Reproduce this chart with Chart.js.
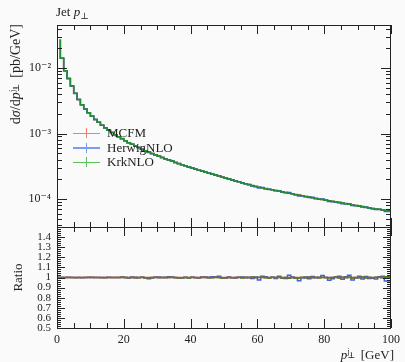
<!DOCTYPE html>
<html><head><meta charset="utf-8">
<script src="https://cdn.jsdelivr.net/npm/chart.js@4.4.1/dist/chart.umd.min.js"></script>
<style>
html,body{margin:0;padding:0;background:#fafafa}
#wrap{position:relative;width:405px;height:362px;overflow:hidden;background:#fafafa}
canvas{position:absolute;left:0;top:0}
.txt{position:absolute;font-family:"Liberation Serif","DejaVu Serif",serif;color:#222;white-space:nowrap;line-height:1}
.txt sub{font-size:70%;vertical-align:-0.3em;line-height:0}
.ss{display:inline-block;position:relative;width:0.8em;height:1em;vertical-align:baseline}
.ss .u{position:absolute;left:0.05em;bottom:0.42em;font-size:62%;line-height:1}
.ss .d{position:absolute;left:0.05em;top:0.72em;font-size:62%;line-height:1}
.leg{position:absolute;left:73px;top:126px;font-family:"Liberation Serif","DejaVu Serif",serif;font-size:13px;color:#222}
.row{height:14.5px;line-height:14.5px;white-space:nowrap}
.mk{display:inline-block;position:relative;width:27px;height:10px;margin-right:7px;vertical-align:-1px}
.mk::before{content:"";position:absolute;left:0;right:0;top:4.5px;height:1.5px;background:var(--c)}
.mk::after{content:"";position:absolute;left:12.5px;top:0;bottom:0;width:1.5px;background:var(--c)}
</style>
</head><body>
<div id="wrap">
<canvas id="c" width="405" height="362"></canvas>
<div class="txt" style="left:56px;top:5px;font-size:13px">Jet <i>p</i><sub>⊥</sub></div>
<div class="txt" style="left:6px;top:224px;width:200px;text-align:right;font-size:14px;transform-origin:0 0;transform:rotate(-90deg)">d<i>σ</i>/d<i>p</i><span class="ss"><span class="u">j₁</span><span class="d">⊥</span></span> [pb/GeV]</div>
<div class="txt" style="left:11px;top:328px;width:101px;text-align:center;font-size:13px;transform-origin:0 0;transform:rotate(-90deg)">Ratio</div>
<div class="txt" style="right:11px;top:346px;font-size:13px"><i>p</i><span class="ss"><span class="u">j₁</span><span class="d">⊥</span></span> [GeV]</div>
<div class="leg">
 <div class="row"><span class="mk" style="--c:#f08070"></span>MCFM</div>
 <div class="row"><span class="mk" style="--c:#7b9cf0"></span>HerwigNLO</div>
 <div class="row"><span class="mk" style="--c:#5cbf5c"></span>KrkNLO</div>
</div>
</div>
<script>
// ---- data ----
const seriesNames = ['MCFM', 'HerwigNLO', 'KrkNLO'];
// bin edges in GeV (1 GeV bins from 0 to 100)
const binEdges = Array.from({length: 101}, (_, i) => i);
// MCFM: dsigma/dpT [pb/GeV] per bin
const mcfm = [
 0, 0.0272, 0.0141, 0.0091, 0.0069, 0.0053, 0.0041, 0.0033, 0.00275, 0.00237,
 0.00207, 0.00184, 0.00164, 0.00148, 0.00134, 0.00122, 0.00112, 0.00104, 0.000955, 0.000891,
 0.000832, 0.000776, 0.000724, 0.000684, 0.000646, 0.000610, 0.000575, 0.000547, 0.000520, 0.000494,
 0.000471, 0.000450, 0.000430, 0.000411, 0.000394, 0.000378, 0.000362, 0.000348, 0.000334, 0.000321,
 0.000309, 0.000297, 0.000286, 0.000276, 0.000266, 0.000257, 0.000248, 0.000240, 0.000232, 0.000224,
 0.000216, 0.000209, 0.000202, 0.000195, 0.000189, 0.000183, 0.000177, 0.000171, 0.000166, 0.000160,
 0.000155, 0.000151, 0.000148, 0.000144, 0.000141, 0.000138, 0.000135, 0.000132, 0.000129, 0.000126,
 0.000123, 0.000120, 0.000117, 0.000115, 0.000112, 0.000109, 0.000107, 0.000105, 0.000102, 0.000100,
 0.0000980, 0.0000960, 0.0000940, 0.0000920, 0.0000902, 0.0000883, 0.0000865, 0.0000847, 0.0000830, 0.0000813,
 0.0000796, 0.0000780, 0.0000764, 0.0000748, 0.0000733, 0.0000718, 0.0000705, 0.0000692, 0.0000679, 0.0000667
];
// ratio to MCFM per bin
const herwigRatio = [
 1.0, 1.001, 0.999, 1.0, 1.002, 0.999, 1.0, 1.001, 0.998, 1.0,
 1.002, 0.999, 1.0, 1.001, 0.997, 1.0, 1.002, 0.999, 1.001, 1.0,
 1.003, 0.997, 0.996, 1.004, 1.003, 0.998, 1.002, 0.996, 0.988, 0.995,
 1.003, 1.004, 1.0, 0.997, 1.008, 1.005, 1.0, 0.998, 0.996, 1.003,
 0.997, 1.002, 0.998, 0.996, 1.004, 1.006, 1.003, 1.008, 1.002, 1.012,
 0.996, 0.998, 1.004, 0.997, 0.995, 1.002, 1.005, 0.998, 1.003, 0.99,
 1.004, 0.975, 1.012, 1.008, 0.996, 1.002, 0.991, 1.012, 0.995, 0.99,
 1.022, 1.004, 0.994, 0.968, 0.998, 1.006, 0.988, 1.01, 0.997, 1.003,
 1.02, 1.003, 0.972, 0.988, 1.002, 1.012, 0.982, 1.008, 1.022, 0.976,
 0.994, 1.012, 0.985, 1.01, 0.99, 0.992, 0.985, 1.008, 1.012, 0.965
];
const krkRatio = [
 1.0, 1.0, 1.001, 0.999, 1.0, 1.001, 0.998, 1.0, 1.001, 0.999,
 1.0, 1.002, 0.999, 1.0, 1.0, 0.998, 1.001, 1.0, 0.999, 1.001,
 1.004, 1.002, 0.998, 1.001, 0.996, 0.999, 1.003, 0.997, 0.995, 1.0,
 1.002, 0.998, 1.001, 1.003, 0.999, 1.002, 0.997, 0.994, 0.998, 1.001,
 0.996, 1.002, 0.999, 0.997, 1.003, 1.001, 0.995, 0.998, 1.004, 1.0,
 0.996, 0.994, 1.001, 0.997, 0.999, 1.003, 0.996, 1.002, 0.998, 1.004,
 0.998, 1.003, 1.006, 0.997, 0.995, 1.002, 0.999, 1.004, 0.996, 1.001,
 0.993, 1.0, 0.992, 0.996, 1.003, 0.994, 1.005, 0.998, 1.002, 0.996,
 1.003, 0.997, 0.995, 1.001, 1.004, 0.996, 1.002, 0.998, 1.005, 0.995,
 1.001, 0.997, 1.004, 0.996, 1.002, 0.998, 1.003, 1.006, 0.997, 1.008
];
const mcfmRatio = mcfm.map(() => 1);
// tick labels
const xTickValues = [0, 20, 40, 60, 80, 100];
const mainTickValues = [1e-4, 1e-3, 1e-2];
const mainTickLabels = ['10⁻⁴', '10⁻³', '10⁻²'];
const ratioTickValues = [0.5, 0.6, 0.7, 0.8, 0.9, 1.0, 1.1, 1.2, 1.3, 1.4];
const ratioTickLabels = ['0.5', '0.6', '0.7', '0.8', '0.9', '1', '1.1', '1.2', '1.3', '1.4'];

// ---- styles ----
const FONT = '"Liberation Serif", "DejaVu Serif", serif';
const RED = '#ee3322', BLUE = '#3366ee', GREEN = '#1f8f2f';
const Y_MIN = 3.74e-5, Y_MAX = 0.0453;

function hist(vals) {
  const pts = vals.map((v, i) => ({x: binEdges[i], y: v}));
  pts.push({x: binEdges[vals.length], y: vals[vals.length - 1]});
  return pts;
}
const herwigMain = mcfm.map((v, i) => v * herwigRatio[i]);
const krkMain = mcfm.map((v, i) => v * krkRatio[i]);

function ds(label, vals, axis, color, order, width) {
  return {label, data: hist(vals), yAxisID: axis, borderColor: color, backgroundColor: color,
    borderWidth: width, stepped: 'after', pointRadius: 0, fill: false, order};
}

const panelPlugin = {
  id: 'panels',
  beforeDatasetDraw(chart, args) {
    const ys = chart.scales[args.meta.yAxisID], xs = chart.scales.x, ctx = chart.ctx;
    ctx.save();
    ctx.beginPath();
    ctx.rect(xs.left, ys.top, xs.right - xs.left, ys.bottom - ys.top);
    ctx.clip();
  },
  afterDatasetDraw(chart) { chart.ctx.restore(); },
  afterDraw(chart) {
    const ctx = chart.ctx, xs = chart.scales.x;
    ctx.save();
    ctx.strokeStyle = '#222';
    ctx.lineWidth = 1;
    const L = xs.left, R = xs.right;
    const line = (x1, y1, x2, y2) => { ctx.beginPath(); ctx.moveTo(x1, y1); ctx.lineTo(x2, y2); ctx.stroke(); };
    for (const id of ['y', 'y2']) {
      const s = chart.scales[id];
      const T = s.top, B = s.bottom;
      ctx.strokeRect(Math.round(L) + 0.5, Math.round(T) + 0.5, Math.round(R - L) - 1, Math.round(B - T));
      for (let v = 0; v <= 100; v += 5) {
        const px = Math.round(xs.getPixelForValue(v)) + 0.5;
        const len = v % 20 === 0 ? 9 : 5;
        line(px, T, px, T + len);
        line(px, B, px, B - len);
      }
      const yt = [];
      if (id === 'y') {
        for (let e = -5; e <= -1; e++) {
          for (let m = 1; m <= 9; m++) {
            const v = m * Math.pow(10, e);
            if (v >= Y_MIN && v <= Y_MAX) yt.push([v, m === 1 ? 10 : 5]);
          }
        }
      } else {
        for (let k = 25; k <= 75; k++) {
          const v = k / 50;
          yt.push([v, k % 5 === 0 ? 8 : 4]);
        }
      }
      for (const [v, len] of yt) {
        const py = Math.round(s.getPixelForValue(v)) + 0.5;
        line(L, py, L + len, py);
        line(R, py, R - len, py);
      }
    }
    ctx.restore();
  }
};

new Chart(document.getElementById('c'), {
  type: 'line',
  data: {
    datasets: [
      ds(seriesNames[0], mcfm, 'y', RED, 2, 1.5),
      ds(seriesNames[1], herwigMain, 'y', BLUE, 1, 1.5),
      ds(seriesNames[2], krkMain, 'y', GREEN, 0, 1.5),
      ds(seriesNames[1] + ' ratio', herwigRatio, 'y2', BLUE, 5, 1.5),
      ds(seriesNames[2] + ' ratio', krkRatio, 'y2', GREEN, 4, 1.5),
      ds(seriesNames[0] + ' ratio', mcfmRatio, 'y2', RED, 3, 1.3)
    ]
  },
  options: {
    responsive: false,
    animation: false,
    layout: {padding: {top: 25, right: 11, left: 0, bottom: 0}},
    plugins: {legend: {display: false}, tooltip: {enabled: false}, title: {display: false}},
    scales: {
      x: {
        type: 'linear', min: 0, max: 100, position: 'bottom',
        grid: {display: false, drawTicks: false}, border: {display: false},
        afterBuildTicks: s => { s.ticks = xTickValues.map(v => ({value: v})); },
        ticks: {font: {family: FONT, size: 12}, color: '#222', padding: 5, maxRotation: 0, autoSkip: false,
          callback: v => String(v)},
        afterFit: s => { s.height = 34; }
      },
      y2: {
        type: 'linear', position: 'left', stack: 'panels', stackWeight: 1,
        min: 0.5, max: 1.5,
        grid: {display: false, drawTicks: false}, border: {display: false},
        afterBuildTicks: s => { s.ticks = ratioTickValues.map(v => ({value: v})); },
        ticks: {font: {family: FONT, size: 11}, color: '#222', padding: 6, autoSkip: false,
          callback: v => { const i = ratioTickValues.findIndex(t => Math.abs(t - v) < 1e-6); return i >= 0 ? ratioTickLabels[i] : ''; }},
        afterFit: s => { s.width = 57; }
      },
      y: {
        type: 'logarithmic', position: 'left', stack: 'panels', stackWeight: 2,
        min: Y_MIN, max: Y_MAX,
        grid: {display: false, drawTicks: false}, border: {display: false},
        afterBuildTicks: s => { s.ticks = mainTickValues.map(v => ({value: v})); },
        ticks: {font: {family: FONT, size: 12}, color: '#222', padding: 6, autoSkip: false,
          callback: v => { const i = mainTickValues.findIndex(t => Math.abs(t - v) / t < 1e-6); return i >= 0 ? mainTickLabels[i] : ''; }},
        afterFit: s => { s.width = 57; }
      }
    }
  },
  plugins: [panelPlugin]
});
</script>
</body></html>
